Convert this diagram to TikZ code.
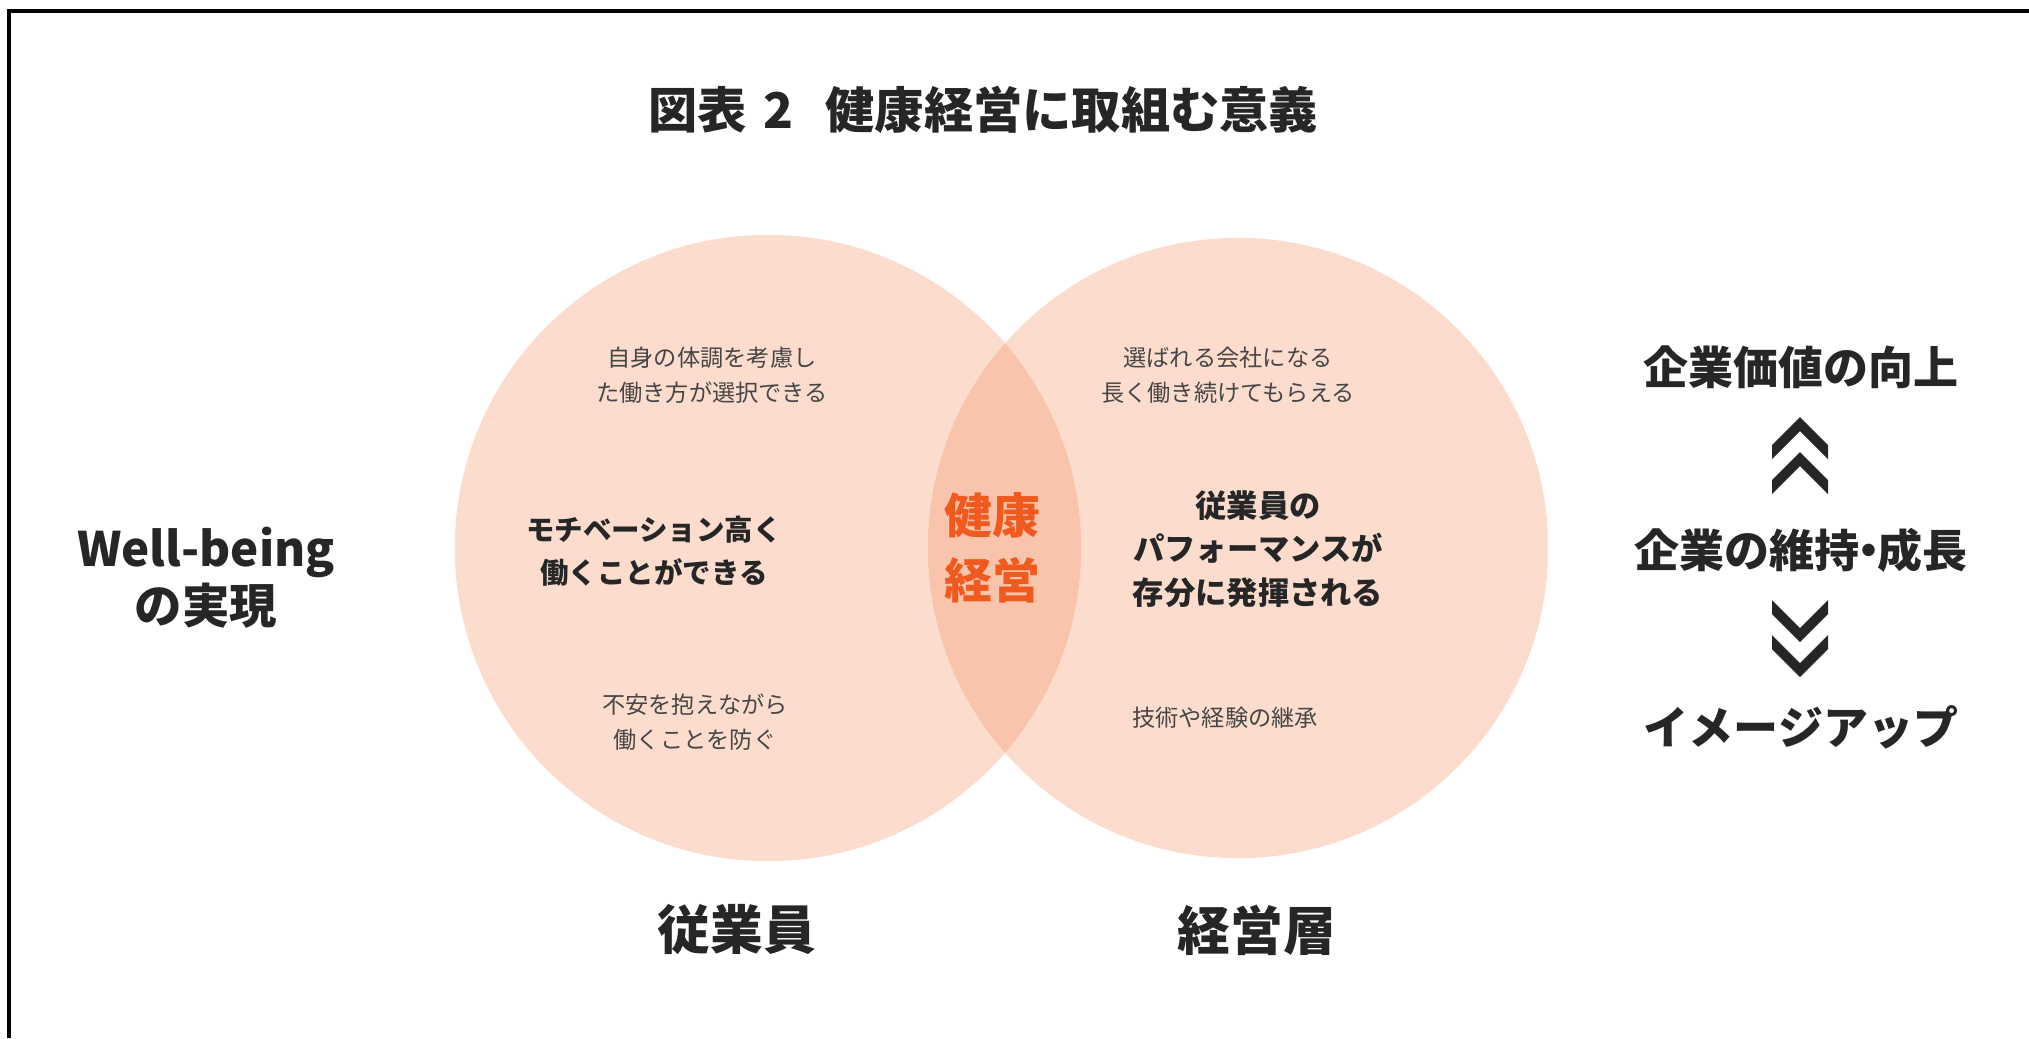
\documentclass[tikz,border=0pt]{standalone}
\usepackage{fontspec}
\setmainfont{Noto Sans CJK JP}
\definecolor{peach}{RGB}{252,221,205}
\definecolor{peachdark}{RGB}{249,196,172}
\definecolor{kenko}{RGB}{240,90,30}
\definecolor{ink}{RGB}{38,38,38}
\definecolor{greyink}{RGB}{70,70,70}

\begin{document}
\begin{tikzpicture}[x=0.01cm,y=-0.01cm,
	head/.style={font=\bfseries\fontsize{13.5}{16.2}\selectfont,text=ink,align=center,inner sep=0pt},
	small/.style={font=\fontsize{6.6}{10}\selectfont,text=greyink,align=center,inner sep=0pt},
	mid/.style={font=\bfseries\fontsize{8.1}{12.2}\selectfont,text=ink,align=center,inner sep=0pt},
	side/.style={font=\bfseries\fontsize{12.8}{16}\selectfont,text=ink,inner sep=0pt},
	chev/.style={fill=ink}]
\useasboundingbox (0,0) rectangle (2029,1038);
\draw[line width=0.9pt] (9,1038) -- (9,11) -- (2029,11);

% circles
\fill[peach] (768,548) circle[radius=3.13cm];
\fill[peach] (1238,548) circle[radius=3.1cm];
\begin{scope}
	\clip (768,548) circle[radius=3.13cm];
	\fill[peachdark] (1238,548) circle[radius=3.1cm];
\end{scope}

\node[head,font=\bfseries\fontsize{14}{16}\selectfont] (titel) at (983,110) {図表\hspace{0.35em}2\hspace{0.65em}健康経営に取組む意義};

\node[head] (wb) at (206,578) {Well-being\\の実現};

\node[small] (l1) at (712,375) {自身の体調を考慮し\\た働き方が選択できる};
\node[mid] (l2) at (654,551) {モチベーション高く\\働くことができる};
\node[small] (l3) at (695,722) {不安を抱えながら\\働くことを防ぐ};

\node[font=\bfseries\fontsize{13.6}{18.5}\selectfont,text=kenko,align=center,inner sep=0pt] (mitte) at (992,548) {健康\\経営};

\node[small] (r1) at (1228,375) {選ばれる会社になる\\長く働き続けてもらえる};
\node[mid,font=\bfseries\fontsize{8.9}{12.4}\selectfont] (r2) at (1258,549) {従業員の\\パフォーマンスが\\存分に発揮される};
\node[small] (r3) at (1225,718) {技術や経験の継承};

\node[head,font=\bfseries\fontsize{15}{18}\selectfont] (emp) at (737,930) {従業員};
\node[head,font=\bfseries\fontsize{15}{18}\selectfont] (mgmt) at (1257,930) {経営層};

\node[side] (up) at (1801,367) {企業価値の向上};
\node[side] (keep) at (1801,550) {企業の維持\kern-0.3em・\kern-0.3em 成長};
\node[side] (img) at (1801,727) {イメージアップ};

% chevrons
\foreach \y in {417,452}
	\fill[chev] (1772,\y+28) -- (1800,\y) -- (1828,\y+28) -- (1828,\y+42) -- (1800,\y+14) -- (1772,\y+42) -- cycle;
\foreach \y in {600,635}
	\fill[chev] (1772,\y) -- (1800,\y+28) -- (1828,\y) -- (1828,\y+14) -- (1800,\y+42) -- (1772,\y+14) -- cycle;
\end{tikzpicture}
\end{document}
